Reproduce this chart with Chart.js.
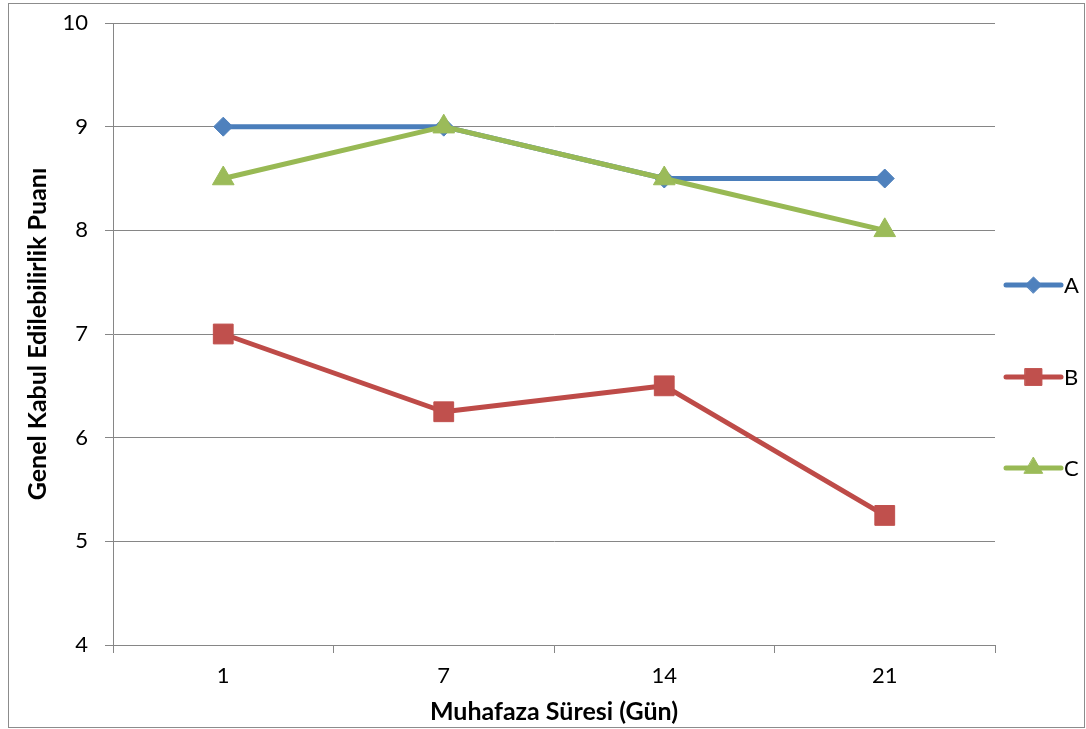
<!DOCTYPE html>
<html>
<head>
<meta charset="utf-8">
<script src="https://cdn.jsdelivr.net/npm/chart.js@4/dist/chart.umd.min.js"></script>
<style>
  html, body { margin: 0; padding: 0; background: #fff; }
  #wrap { position: relative; width: 1086px; height: 729px; }
</style>
</head>
<body>
<div id="wrap"><canvas id="c" width="1086" height="729"></canvas></div>
<script>
// Storage days on the x axis
const days = ['1', '7', '14', '21'];
// Overall acceptability scores per sample group
const seriesA = [9, 9, 8.5, 8.5];
const seriesB = [7, 6.25, 6.5, 5.25];
const seriesC = [8.5, 9, 8.5, 8];
// Score axis range
const yMin = 4;
const yMax = 10;
const yStep = 1;

const seriesNames = ['A', 'B', 'C'];
const lineColors = ['#4a7ebb', '#be4b48', '#98b954'];
const markerColors = ['#4f81bd', '#c0504d', '#9bbb59'];
const markerStyles = ['rectRot', 'rect', 'triangle'];
const markerSizes = [9.5, 14, 12.5];

const FONT = 'Lato, "Open Sans", sans-serif';
const GRID = '#868686';
const TICK_SIZE = 22;
const TITLE_SIZE = 25;

// Outer frame of the figure
const framePlugin = {
  id: 'frame',
  beforeDraw(chart) {
    const ctx = chart.ctx;
    ctx.save();
    ctx.fillStyle = '#fff';
    ctx.fillRect(0, 0, chart.width, chart.height);
    ctx.strokeStyle = '#8c8c8c';
    ctx.lineWidth = 1;
    ctx.strokeRect(8.5, 3.5, 1076, 724);
    ctx.restore();
  }
};

// Legend on the right: line segment with marker, then the series name
const sideLegend = {
  id: 'sideLegend',
  afterDraw(chart) {
    const ctx = chart.ctx;
    const x0 = 1006, x1 = 1061;
    const rows = [285, 377, 468];
    chart.data.datasets.forEach((ds, i) => {
      const y = rows[i];
      ctx.save();
      ctx.strokeStyle = ds.borderColor;
      ctx.lineWidth = ds.borderWidth;
      ctx.lineCap = 'round';
      ctx.beginPath();
      ctx.moveTo(x0, y);
      ctx.lineTo(x1, y);
      ctx.stroke();
      ctx.fillStyle = ds.pointBackgroundColor;
      ctx.strokeStyle = ds.pointBorderColor;
      ctx.lineWidth = 1;
      Chart.helpers.drawPoint(ctx, {
        pointStyle: ds.pointStyle,
        radius: ds.pointRadius * 0.85,
        borderWidth: 1,
        rotation: 0
      }, (x0 + x1) / 2, y);
      ctx.fillStyle = '#000';
      ctx.font = TICK_SIZE + 'px ' + FONT;
      ctx.textBaseline = 'middle';
      ctx.textAlign = 'left';
      ctx.fillText(ds.label, 1064, y + 1);
      ctx.restore();
    });
  }
};

const values = [seriesA, seriesB, seriesC];
const datasets = values.map((vals, i) => ({
  label: seriesNames[i],
  data: vals,
  borderColor: lineColors[i],
  backgroundColor: lineColors[i],
  borderWidth: 5,
  borderCapStyle: 'round',
  borderJoinStyle: 'round',
  tension: 0,
  fill: false,
  pointStyle: markerStyles[i],
  pointRadius: markerSizes[i],
  pointHoverRadius: markerSizes[i],
  pointBackgroundColor: markerColors[i],
  pointBorderColor: markerColors[i],
  pointBorderWidth: 1,
  order: 3 - i
}));

new Chart(document.getElementById('c'), {
  type: 'line',
  data: { labels: days, datasets },
  options: {
    responsive: false,
    animation: false,
    devicePixelRatio: 1,
    layout: { padding: { left: 0, top: 23, right: 1086 - 995, bottom: 0 } },
    plugins: {
      legend: { display: false },
      tooltip: { enabled: false }
    },
    scales: {
      x: {
        type: 'category',
        offset: true,
        grid: {
          offset: true,
          drawOnChartArea: false,
          drawTicks: true,
          tickLength: 8,
          color: GRID,
          lineWidth: 1
        },
        border: { display: true, color: GRID, width: 1 },
        ticks: {
          color: '#000',
          font: { family: FONT, size: TICK_SIZE },
          padding: 10
        },
        title: {
          display: true,
          text: 'Muhafaza Süresi (Gün)',
          color: '#000',
          font: { family: FONT, size: TITLE_SIZE, weight: 'bold' },
          padding: { top: 0, bottom: 2 }
        },
        afterFit(scale) {
          scale.height = 729 - 645;
          scale.paddingLeft = 0;
          scale.paddingRight = 0;
        }
      },
      y: {
        min: yMin,
        max: yMax,
        grid: {
          color: GRID,
          lineWidth: 1,
          drawTicks: true,
          tickLength: 8
        },
        border: { display: true, color: GRID, width: 1 },
        ticks: {
          stepSize: yStep,
          color: '#000',
          font: { family: FONT, size: TICK_SIZE },
          padding: 17
        },
        title: {
          display: true,
          text: 'Genel Kabul Edilebilirlik Puanı',
          color: '#000',
          font: { family: FONT, size: TITLE_SIZE, weight: 'bold' },
          padding: { top: 23, bottom: 0 }
        },
        afterFit(scale) {
          scale.width = 113;
          scale.paddingTop = 0;
          scale.paddingBottom = 0;
        }
      }
    }
  },
  plugins: [framePlugin, sideLegend]
});
</script>
</body>
</html>
